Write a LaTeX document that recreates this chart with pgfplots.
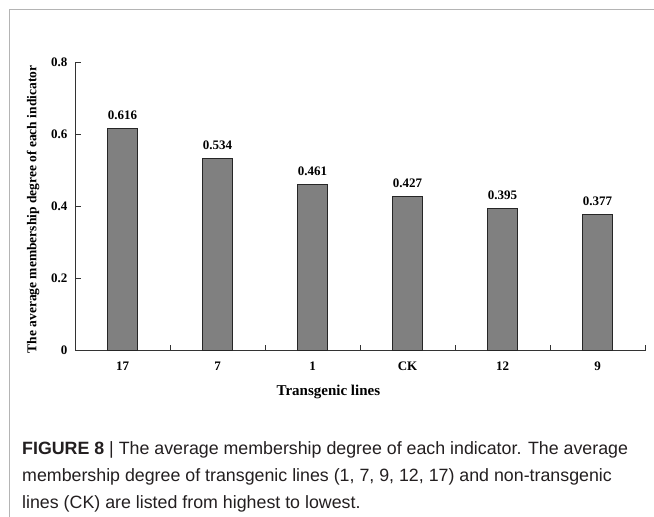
\documentclass[border=0pt]{standalone}
\usepackage{fontspec}
\setmainfont{Liberation Serif}
\newfontfamily\capfont{Liberation Sans}
\usepackage{pgfplots}
\pgfplotsset{compat=1.18}
\definecolor{bargray}{RGB}{128,128,128}
\definecolor{captxt}{RGB}{35,31,32}
\definecolor{framegray}{RGB}{180,180,180}
\newcommand\tickfont{\fontsize{13}{15}\selectfont\bfseries}
\begin{document}
\begin{tikzpicture}[x=1pt,y=1pt]
\useasboundingbox (0,0) rectangle (654,517);
\fill[white] (0,0) rectangle (654,517);
\draw[framegray, line width=1pt] (9,0) -- (9,507) -- (654,507);
\begin{axis}[
  at={(75pt,166.3pt)}, anchor=south west,
  scale only axis, width=570pt, height=288.2pt,
  xmin=-0.5, xmax=5.5, ymin=0, ymax=0.8,
  axis x line*=bottom, axis y line*=left,
  axis line style={-, draw=black!80, line width=0.9pt},
  ybar, bar width=30.5pt,
  clip=false,
  ytick={0,0.2,0.4,0.6,0.8}, yticklabels={0,0.2,0.4,0.6,0.8},
  xtick={0,1,2,3,4,5}, xticklabels={17,7,1,CK,12,9},
  minor xtick={0.5,1.5,2.5,3.5,4.5,5.5},
  every major x tick/.append style={draw=none},
  tick align=inside, major tick length=6pt, minor tick length=6pt,
  tick style={draw=black!80, line width=0.8pt},
  ticklabel style={font=\tickfont},
  yticklabel style={xshift=-4pt},
  xticklabel style={yshift=-8pt},
  /pgf/number format/assume math mode=true,
  xlabel={Transgenic lines},
  ylabel={The average membership degree of each indicator},
  xlabel style={font=\fontsize{15}{17}\selectfont\bfseries, at={(axis description cs:0.4446,-0.1423)}, anchor=center},
  ylabel style={font=\fontsize{13.5}{15}\selectfont\bfseries, at={(axis description cs:-0.0737,0.49)}, anchor=center, rotate=0},
  nodes near coords,
  nodes near coords style={font=\tickfont, yshift=5pt, /pgf/number format/.cd, fixed, fixed zerofill, precision=3, assume math mode=true},
]
\addplot[ybar, fill=bargray, draw=black!85, line width=0.8pt] coordinates {(0,0.616) (1,0.534) (2,0.461) (3,0.427) (4,0.395) (5,0.377)};
\end{axis}
\begin{scope}[every node/.style={anchor=base west, inner sep=0pt, font=\capfont\fontsize{17.8}{20}\selectfont, text=captxt}]
\node at (22,62) {\textbf{FIGURE 8} | The average membership degree of each indicator. The average};
\node at (22,35) {membership degree of transgenic lines (1, 7, 9, 12, 17) and non-transgenic};
\node at (22,8) {lines (CK) are listed from highest to lowest.};
\end{scope}
\end{tikzpicture}
\end{document}
